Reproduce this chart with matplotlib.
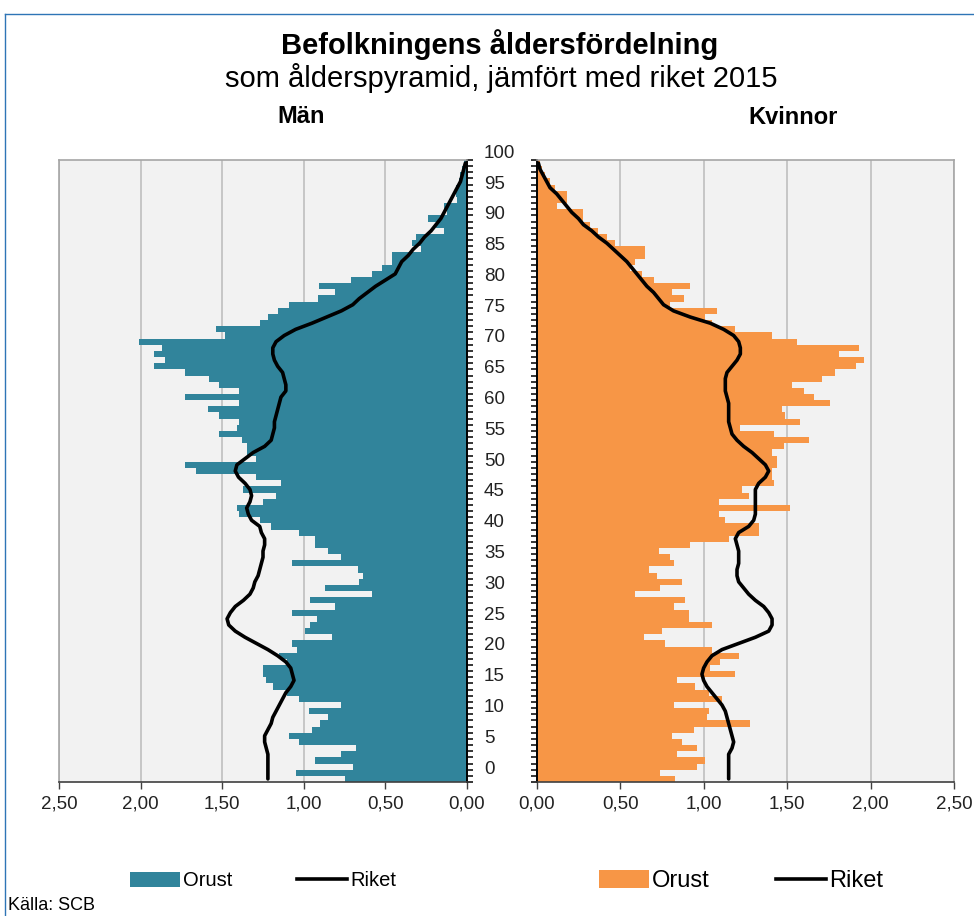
import numpy as np
import matplotlib
matplotlib.use("Agg")
import matplotlib.pyplot as plt
from matplotlib.lines import Line2D
from matplotlib.patches import Patch

plt.rcParams['font.family'] = ['Liberation Sans', 'DejaVu Sans']

# Age 0..100, share of population (%)
ages = np.arange(0, 101)

men_orust = [
    0.745, 1.05, 0.70, 0.93, 0.77, 0.68, 1.03, 1.09, 0.95, 0.90,   # 0-9
    0.85, 0.97, 0.77, 1.03, 1.10, 1.19, 1.23, 1.25, 1.25, 1.10,   # 10-19
    1.15, 1.04, 1.07, 0.83, 0.99, 0.96, 0.92, 1.07, 0.81, 0.96,   # 20-29
    0.58, 0.87, 0.66, 0.64, 0.67, 1.07, 0.77, 0.85, 0.93, 0.93,   # 30-39
    1.03, 1.20, 1.27, 1.40, 1.41, 1.25, 1.17, 1.37, 1.14, 1.29,   # 40-49
    1.66, 1.73, 1.29, 1.35, 1.35, 1.38, 1.52, 1.41, 1.40, 1.52,   # 50-59
    1.59, 1.40, 1.73, 1.40, 1.52, 1.58, 1.73, 1.92, 1.85, 1.92,   # 60-69
    1.87, 2.01, 1.48, 1.54, 1.27, 1.22, 1.16, 1.09, 0.915, 0.81,  # 70-79
    0.905, 0.71, 0.58, 0.52, 0.46, 0.46, 0.28, 0.34, 0.315, 0.14, # 80-89
    0.19, 0.24, 0.12, 0.14, 0.06, 0.07, 0.07, 0.05, 0.04, 0.03,   # 90-99
    0.02,                                                          # 100
]

men_riket = [
    1.22, 1.22, 1.22, 1.22, 1.22, 1.23, 1.24, 1.24, 1.22, 1.20,
    1.19, 1.17, 1.15, 1.13, 1.11, 1.08, 1.06, 1.07, 1.08, 1.11,
    1.16, 1.22, 1.29, 1.36, 1.42, 1.46, 1.47, 1.45, 1.42, 1.37,
    1.33, 1.31, 1.30, 1.28, 1.27, 1.26, 1.25, 1.25, 1.24, 1.24,
    1.26, 1.27, 1.32, 1.34, 1.35, 1.33, 1.32, 1.33, 1.36, 1.40,
    1.42, 1.41, 1.36, 1.31, 1.24, 1.20, 1.19, 1.18, 1.18, 1.17,
    1.16, 1.15, 1.14, 1.11, 1.11, 1.12, 1.13, 1.16, 1.18, 1.19,
    1.19, 1.17, 1.12, 1.05, 0.95, 0.86, 0.77, 0.70, 0.66, 0.61,
    0.56, 0.50, 0.44, 0.42, 0.40, 0.36, 0.33, 0.29, 0.26, 0.22,
    0.19, 0.16, 0.14, 0.12, 0.10, 0.08, 0.06, 0.04, 0.03, 0.02,
    0.01,
]

women_orust = [
    0.83, 0.74, 0.96, 1.01, 0.84, 0.96, 0.87, 0.81, 0.94, 1.28,
    1.02, 1.03, 0.82, 1.11, 1.03, 0.95, 0.84, 1.19, 1.04, 1.10,
    1.21, 1.05, 0.77, 0.64, 0.75, 1.05, 0.91, 0.91, 0.82, 0.89,
    0.59, 0.74, 0.87, 0.72, 0.67, 0.82, 0.80, 0.73, 0.92, 1.15,
    1.33, 1.33, 1.13, 1.09, 1.52, 1.09, 1.27, 1.23, 1.42, 1.41,
    1.41, 1.44, 1.44, 1.41, 1.48, 1.63, 1.42, 1.22, 1.58, 1.49,
    1.47, 1.76, 1.66, 1.60, 1.53, 1.71, 1.79, 1.91, 1.96, 1.81,
    1.93, 1.56, 1.41, 1.19, 1.05, 1.01, 1.08, 0.80, 0.88, 0.81,
    0.92, 0.70, 0.63, 0.56, 0.59, 0.65, 0.65, 0.47, 0.42, 0.37,
    0.32, 0.28, 0.28, 0.12, 0.18, 0.18, 0.11, 0.08, 0.05, 0.03,
    0.02,
]

women_riket = [
    1.15, 1.15, 1.15, 1.15, 1.15, 1.17, 1.18, 1.17, 1.16, 1.15,
    1.14, 1.13, 1.11, 1.08, 1.05, 1.02, 1.00, 0.99, 1.00, 1.02,
    1.05, 1.11, 1.21, 1.31, 1.39, 1.41, 1.41, 1.39, 1.36, 1.31,
    1.27, 1.24, 1.21, 1.20, 1.20, 1.21, 1.21, 1.21, 1.20, 1.19,
    1.21, 1.27, 1.30, 1.31, 1.31, 1.31, 1.31, 1.31, 1.33, 1.37,
    1.39, 1.37, 1.33, 1.29, 1.24, 1.20, 1.17, 1.16, 1.15, 1.15,
    1.15, 1.15, 1.14, 1.13, 1.13, 1.13, 1.14, 1.17, 1.20, 1.22,
    1.22, 1.21, 1.18, 1.12, 1.04, 0.92, 0.82, 0.76, 0.73, 0.70,
    0.66, 0.63, 0.60, 0.57, 0.54, 0.50, 0.46, 0.42, 0.37, 0.33,
    0.28, 0.25, 0.21, 0.18, 0.15, 0.12, 0.08, 0.06, 0.04, 0.02,
    0.01,
]

x_ticks = [0.0, 0.5, 1.0, 1.5, 2.0, 2.5]
x_tick_labels = ["0,00", "0,50", "1,00", "1,50", "2,00", "2,50"]
age_labels = list(range(0, 101, 5))

TEAL = '#31849B'
ORANGE = '#F79646'
GRID = '#BFBFBF'
FRAME = '#A6A6A6'

W, H = 974, 916
fig = plt.figure(figsize=(W / 100, H / 100), dpi=100)
fig.patch.set_facecolor('white')

ax_m = fig.add_axes([59 / W, 134 / H, 408 / W, 622 / H])
ax_w = fig.add_axes([536.7 / W, 134 / H, 417.3 / W, 622 / H])


def style_panel(ax, orust, riket, color, inner):
    ax.set_facecolor('#F2F2F2')
    ax.barh(ages, orust, height=1.0, color=color, linewidth=0, zorder=2)
    ax.plot(riket, ages, color='black', lw=2.6, zorder=3,
            solid_capstyle='round', solid_joinstyle='round')
    ax.set_ylim(-0.5, 100.5)
    ax.set_xticks(x_ticks)
    ax.set_xticklabels(x_tick_labels, fontsize=13.5, color='#222222')
    ax.xaxis.grid(True, color=GRID, lw=1.2, zorder=0)
    ax.set_axisbelow(True)
    ax.tick_params(axis='x', direction='out', length=5, width=1,
                   color='#404040', pad=5)
    # a small tick at every category boundary on the inner axis
    ax.set_yticks(np.arange(-0.5, 101, 1))
    ax.set_yticklabels([])
    ax.tick_params(axis='y', direction='out', length=4, width=1.1,
                   color='black')
    for side in ['top', 'left', 'right']:
        ax.spines[side].set_color(FRAME)
        ax.spines[side].set_linewidth(1.2)
    ax.spines['bottom'].set_color('#404040')
    ax.spines['bottom'].set_linewidth(1.2)
    ax.spines[inner].set_color('black')
    ax.spines[inner].set_linewidth(1.4)


style_panel(ax_m, men_orust, men_riket, TEAL, 'right')
ax_m.set_xlim(2.5, 0)
ax_m.yaxis.tick_right()
ax_m.tick_params(axis='y', labelright=False)

style_panel(ax_w, women_orust, women_riket, ORANGE, 'left')
ax_w.set_xlim(0, 2.5)
ax_w.yaxis.tick_left()

# age labels sit between the two panels
for k in age_labels:
    ax_m.text((484 - 59) / 408, k + 1.6, str(k),
              transform=ax_m.get_yaxis_transform(), ha='left', va='center',
              fontsize=13.5, color='#222222', clip_on=False)

fig.text(500 / W, 1 - 45 / H, "Befolkningens åldersfördelning",
         ha='center', va='center', fontsize=21, fontweight='bold')
fig.text(501 / W, 1 - 78 / H, "som ålderspyramid, jämfört med riket 2015",
         ha='center', va='center', fontsize=21)
fig.text(301 / W, 1 - 117 / H, "Män", ha='center', va='center',
         fontsize=17, fontweight='bold')
fig.text(793 / W, 1 - 118 / H, "Kvinnor", ha='center', va='center',
         fontsize=17, fontweight='bold')

fig.legend(handles=[Patch(facecolor=TEAL), Line2D([], [], color='black', lw=2.6)],
           labels=['Orust', 'Riket'], loc='center',
           bbox_to_anchor=(263 / W, 1 - 881 / H), ncol=2, frameon=False,
           fontsize=14.5, handlelength=2.5, handletextpad=0.15,
           columnspacing=3.2, handleheight=0.8)
fig.legend(handles=[Patch(facecolor=ORANGE), Line2D([], [], color='black', lw=2.6)],
           labels=['Orust', 'Riket'], loc='center',
           bbox_to_anchor=(741 / W, 1 - 881 / H), ncol=2, frameon=False,
           fontsize=17, handlelength=2.1, handletextpad=0.15,
           columnspacing=2.8, handleheight=0.8)

fig.text(8 / W, 1 - 905 / H, "Källa: SCB", ha='left', va='center', fontsize=13)

# thin blue frame round the chart (top and left edges visible)
fig.add_artist(Line2D([5 / W, 5 / W], [0, 1 - 14 / H], transform=fig.transFigure,
                      color='#2E75B6', lw=1))
fig.add_artist(Line2D([5 / W, 1], [1 - 14 / H, 1 - 14 / H], transform=fig.transFigure,
                      color='#2E75B6', lw=1))

fig.savefig("out.png", dpi=100)
